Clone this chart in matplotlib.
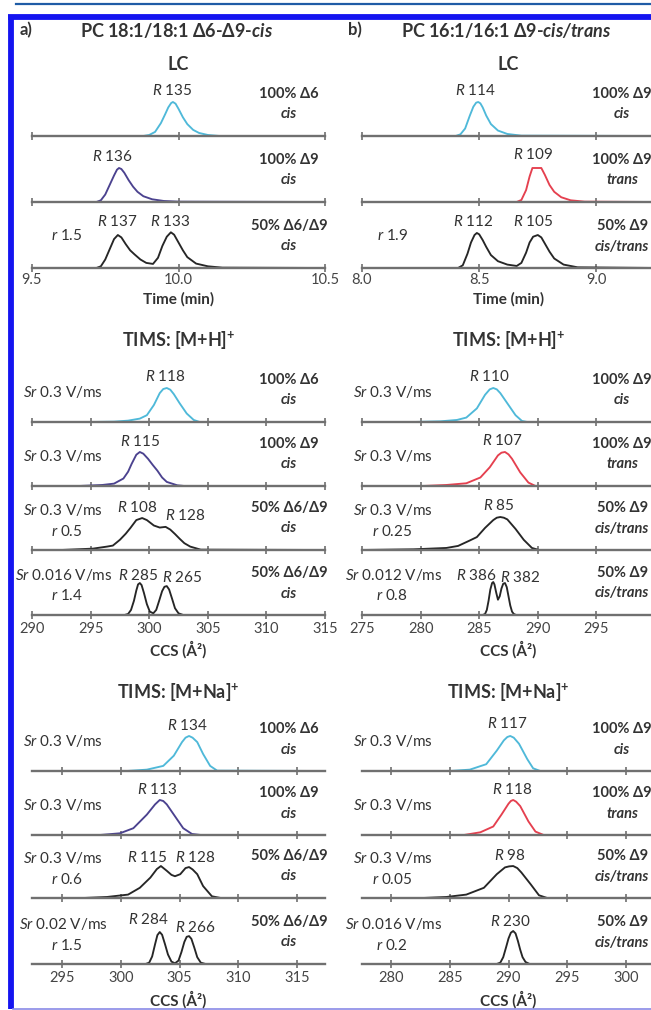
import matplotlib
matplotlib.use('Agg')
import matplotlib.pyplot as plt
from matplotlib.lines import Line2D
from matplotlib.transforms import blended_transform_factory

plt.rcParams['font.family'] = ['Lato', 'Noto Sans', 'DejaVu Sans']
plt.rcParams['mathtext.fontset'] = 'custom'
plt.rcParams['mathtext.rm'] = 'Lato'
plt.rcParams['mathtext.it'] = 'Lato:italic'
plt.rcParams['mathtext.bf'] = 'Lato:bold'
plt.rcParams['mathtext.bfit'] = 'Lato:italic:bold'

# ---------------- data ----------------
# colours of the isomers
CYAN = '#4fb9d9'
PURPLE = '#4b428f'
RED = '#e5404f'
BLACK = '#262626'

# LC, panel a (time, min)
lc_a_d6_t = [9.50, 9.88, 9.90, 9.92, 9.94, 9.955, 9.965, 9.975, 9.981, 9.99, 10.00, 10.015, 10.03, 10.05,
             10.07, 10.10, 10.14, 10.50]
lc_a_d6_i = [0, 0, 0.03, 0.12, 0.38, 0.65, 0.84, 0.97, 1.00, 0.95, 0.80, 0.55, 0.35, 0.18,
             0.09, 0.03, 0, 0]
lc_a_d9_t = [9.50, 9.72, 9.735, 9.75, 9.765, 9.78, 9.79, 9.797, 9.805, 9.815, 9.83, 9.845, 9.86, 9.88,
             9.91, 9.95, 10.0, 10.5]
lc_a_d9_i = [0, 0, 0.05, 0.22, 0.50, 0.78, 0.95, 1.00, 0.97, 0.86, 0.64, 0.45, 0.30, 0.17,
             0.08, 0.03, 0.01, 0]
lc_a_mix_t = [9.5, 9.72, 9.735, 9.75, 9.765, 9.78, 9.793, 9.805, 9.82, 9.835, 9.85, 9.87, 9.89, 9.913,
              9.93, 9.945, 9.96, 9.974, 9.985, 10.0, 10.015, 10.03, 10.06, 10.1, 10.15, 10.5]
lc_a_mix_i = [0, 0, 0.05, 0.25, 0.55, 0.85, 0.97, 0.90, 0.70, 0.52, 0.40, 0.25, 0.15, 0.12,
              0.30, 0.65, 0.92, 1.05, 0.98, 0.75, 0.52, 0.32, 0.13, 0.05, 0.01, 0]

# LC, panel b
lc_b_cis_t = [8.0, 8.40, 8.42, 8.44, 8.46, 8.475, 8.487, 8.496, 8.505, 8.515, 8.53, 8.55, 8.58, 8.62, 8.68, 9.25]
lc_b_cis_i = [0, 0, 0.05, 0.22, 0.60, 0.86, 0.98, 1.00, 0.96, 0.84, 0.60, 0.35, 0.16, 0.06, 0.01, 0]
lc_b_trans_t = [8.0, 8.66, 8.68, 8.70, 8.715, 8.727, 8.765, 8.78, 8.80, 8.82, 8.85, 8.89, 8.95, 9.25]
lc_b_trans_i = [0, 0, 0.06, 0.35, 0.75, 1.00, 1.00, 0.80, 0.50, 0.30, 0.14, 0.05, 0.01, 0]
lc_b_mix_t = [8.0, 8.41, 8.43, 8.45, 8.465, 8.48, 8.49, 8.50, 8.515, 8.53, 8.55, 8.58, 8.62, 8.66, 8.68,
              8.70, 8.715, 8.73, 8.75, 8.765, 8.78, 8.80, 8.82, 8.86, 8.92, 9.25]
lc_b_mix_i = [0, 0, 0.08, 0.42, 0.75, 0.97, 1.03, 0.99, 0.82, 0.62, 0.38, 0.20, 0.10, 0.06, 0.15,
              0.45, 0.75, 0.92, 0.97, 0.90, 0.72, 0.48, 0.28, 0.10, 0.02, 0]

# TIMS [M+H]+, panel a (CCS, A^2)
h_a_d6_x = [290, 295, 297, 298.2, 299.2, 299.8, 300.4, 300.9, 301.2, 301.5, 301.8, 302.1, 302.6, 303.2,
            303.8, 304.3, 315]
h_a_d6_y = [0, 0, 0.01, 0.04, 0.10, 0.20, 0.50, 0.85, 0.97, 1.00, 0.95, 0.82, 0.55, 0.25,
            0.06, 0, 0]
h_a_d9_x = [290, 294, 296, 297.0, 297.8, 298.2, 298.5, 298.9, 299.2, 299.5, 299.9, 300.3, 300.7, 301.1,
            301.5, 302.4, 303, 315]
h_a_d9_y = [0, 0, 0.03, 0.07, 0.22, 0.42, 0.65, 0.92, 1.00, 0.95, 0.80, 0.62, 0.45, 0.25,
            0.12, 0.02, 0, 0]
h_a_mix_x = [290, 292.5, 295.2, 296.4, 296.9, 297.5, 298.0, 298.4, 298.9, 299.4, 299.8, 300.4, 300.9, 301.4,
             301.8, 302.2, 302.6, 303.0, 303.5, 304.4, 315]
h_a_mix_y = [0, 0, 0.04, 0.10, 0.13, 0.30, 0.48, 0.65, 0.88, 0.94, 0.88, 0.72, 0.66, 0.68,
             0.60, 0.47, 0.33, 0.20, 0.10, 0.01, 0]
h_a_slow_x = [290, 297.9, 298.2, 298.45, 298.7, 298.9, 299.05, 299.2, 299.35, 299.55, 299.8, 300.05, 300.35,
              300.6, 300.85, 301.1, 301.3, 301.5, 301.7, 301.95, 302.2, 302.5, 302.9, 315]
h_a_slow_y = [0, 0, 0.03, 0.15, 0.42, 0.72, 0.90, 0.94, 0.88, 0.65, 0.32, 0.10, 0.05,
              0.15, 0.42, 0.70, 0.83, 0.85, 0.75, 0.48, 0.20, 0.05, 0, 0]

# TIMS [M+H]+, panel b
h_b_cis_x = [275, 279.4, 281.7, 283.1, 283.9, 284.8, 285.5, 285.9, 286.2, 286.5, 286.8, 287.5, 288.1,
             288.65, 289.1, 300]
h_b_cis_y = [0, 0, 0.02, 0.06, 0.13, 0.40, 0.80, 0.96, 1.00, 0.96, 0.85, 0.50, 0.20,
             0.03, 0, 0]
h_b_trans_x = [275, 280.2, 282.2, 283.9, 285.1, 285.9, 286.3, 286.6, 286.9, 287.2, 287.5, 287.8, 288.5,
               289.2, 289.8, 300]
h_b_trans_y = [0, 0, 0.03, 0.08, 0.25, 0.55, 0.75, 0.90, 0.98, 1.00, 0.93, 0.80, 0.40,
               0.10, 0, 0]
h_b_mix_x = [275, 279.4, 282.2, 283.2, 284.2, 284.8, 285.5, 286.2, 286.5, 286.8, 287.1, 287.4, 288.1,
             288.8, 289.5, 290.1, 300]
h_b_mix_y = [0, 0.02, 0.06, 0.12, 0.28, 0.38, 0.65, 0.88, 0.95, 0.97, 0.95, 0.90, 0.62,
             0.30, 0.06, 0, 0]
h_b_slow_x = [275, 285.3, 285.5, 285.65, 285.8, 285.95, 286.1, 286.2, 286.3, 286.45, 286.6, 286.75, 286.9,
              287.05, 287.2, 287.35, 287.5, 287.65, 287.8, 287.95, 288.15, 300]
h_b_slow_y = [0, 0, 0.03, 0.15, 0.42, 0.75, 0.94, 0.97, 0.90, 0.66, 0.45, 0.55, 0.78,
              0.92, 0.94, 0.82, 0.55, 0.28, 0.10, 0.03, 0, 0]

# TIMS [M+Na]+, panel a
na_a_d6_x = [292.4, 300.5, 302.2, 303.6, 304.5, 305.2, 305.5, 305.8, 306.1, 306.5, 307.0, 307.6, 308.2, 317.4]
na_a_d6_y = [0, 0, 0.04, 0.15, 0.45, 0.85, 0.98, 1.03, 0.98, 0.85, 0.50, 0.15, 0.01, 0]
na_a_d9_x = [292.4, 298.2, 299.9, 301.05, 302.2, 302.9, 303.3, 303.6, 303.9, 304.6, 305.3, 306.05, 306.8, 317.4]
na_a_d9_y = [0, 0, 0.05, 0.20, 0.60, 0.90, 1.03, 1.00, 0.90, 0.55, 0.20, 0.03, 0, 0]
na_a_mix_x = [292.4, 296.8, 298.8, 300.6, 301.6, 302.5, 303.05, 303.4, 303.9, 304.3, 304.6, 305.05, 305.5,
              305.8, 306.1, 306.5, 307.0, 307.75, 308.5, 317.4]
na_a_mix_y = [0, 0, 0.03, 0.10, 0.30, 0.60, 0.85, 0.94, 0.80, 0.68, 0.64, 0.70, 0.88,
              0.91, 0.84, 0.70, 0.35, 0.05, 0, 0]
na_a_slow_x = [292.4, 302.1, 302.4, 302.65, 302.9, 303.1, 303.3, 303.5, 303.75, 304.0, 304.3, 304.6, 304.9,
               305.15, 305.4, 305.6, 305.8, 306.0, 306.25, 306.5, 306.8, 307.2, 317.4]
na_a_slow_y = [0, 0, 0.04, 0.22, 0.58, 0.85, 0.94, 0.86, 0.58, 0.28, 0.07, 0.02, 0.10,
               0.35, 0.65, 0.80, 0.82, 0.74, 0.48, 0.20, 0.04, 0, 0]

# TIMS [M+Na]+, panel b
na_b_cis_x = [277.5, 285.0, 286.7, 288.1, 289.0, 289.6, 289.9, 290.15, 290.45, 290.9, 291.6, 292.1, 292.7, 302.5]
na_b_cis_y = [0, 0, 0.04, 0.20, 0.60, 0.90, 1.00, 1.03, 0.98, 0.80, 0.35, 0.08, 0, 0]
na_b_trans_x = [277.5, 286.2, 287.6, 288.7, 289.4, 290.0, 290.2, 290.4, 290.65, 291.0, 291.7, 292.3, 293.0, 302.5]
na_b_trans_y = [0, 0, 0.08, 0.25, 0.60, 0.92, 1.00, 1.03, 0.98, 0.85, 0.40, 0.10, 0, 0]
na_b_mix_x = [277.5, 282.7, 284.7, 286.4, 287.9, 289.0, 289.7, 290.05, 290.4, 290.75, 291.1, 291.9, 292.6,
              293.3, 302.5]
na_b_mix_y = [0, 0, 0.03, 0.10, 0.30, 0.70, 0.90, 0.93, 0.94, 0.88, 0.75, 0.40, 0.08, 0, 0]
na_b_slow_x = [277.5, 289.0, 289.3, 289.55, 289.8, 290.0, 290.2, 290.4, 290.6, 290.8, 291.0, 291.2, 291.45,
               291.8, 302.5]
na_b_slow_y = [0, 0, 0.04, 0.20, 0.50, 0.75, 0.92, 0.97, 0.90, 0.68, 0.42, 0.20, 0.06, 0, 0]

# resolution labels (text, position on x)
lc_a_R = [[('135', 9.978)], [('136', 9.776)], [('137', 9.79), ('133', 9.971)]]
lc_b_R = [[('114', 8.483)], [('109', 8.73)], [('112', 8.474), ('105', 8.73)]]
h_a_R = [[('118', 301.4)], [('115', 299.2)], [('108', 299.0), ('128', 303.1)], [('285', 299.1), ('265', 302.8)]]
h_b_R = [[('110', 285.85)], [('107', 286.97)], [('85', 286.7)], [('386', 284.8), ('382', 288.5)]]
na_a_R = [[('134', 305.7)], [('113', 303.1)], [('115', 302.2), ('128', 306.3)], [('284', 302.3), ('266', 306.3)]]
na_b_R = [[('117', 289.9)], [('118', 290.3)], [('98', 290.15)], [('230', 290.15)]]

# sample names
names_a = [('100% Δ6', 'cis'), ('100% Δ9', 'cis'), ('50% Δ6/Δ9', 'cis'), ('50% Δ6/Δ9', 'cis')]
names_b = [('100% Δ9', 'cis'), ('100% Δ9', 'trans'), ('50% Δ9', 'cis/trans'), ('50% Δ9', 'cis/trans')]

# scan rates and peak-to-peak ratios
h_a_sr = ['0.3', '0.3', '0.3', '0.016']
h_a_r = [None, None, '0.5', '1.4']
h_b_sr = ['0.3', '0.3', '0.3', '0.012']
h_b_r = [None, None, '0.25', '0.8']
na_a_sr = ['0.3', '0.3', '0.3', '0.02']
na_a_r = [None, None, '0.6', '1.5']
na_b_sr = ['0.3', '0.3', '0.3', '0.016']
na_b_r = [None, None, '0.05', '0.2']
lc_a_r = [None, None, '1.5']
lc_b_r = [None, None, '1.9']

# ---------------- drawing ----------------
W, H = 651, 1010
AX_W = 293      # axes width in px
ROW_H = 62      # row height in px
UNIT = 34       # px per intensity unit
TXT = '#333333'
AXC = '#707070'

fig = plt.figure(figsize=(W / 100, H / 100), dpi=100)


def ftext(x, y, s, **kw):
    kw.setdefault('color', TXT)
    fig.text(x / W, 1 - y / H, s, ha=kw.pop('ha', 'center'), va=kw.pop('va', 'center'), **kw)


def row(left, base, xlim, ticks, xs, ys, color, labels=False, pad=2.0):
    ax = fig.add_axes([left / W, 1 - base / H, AX_W / W, ROW_H / H])
    ax.patch.set_alpha(0)
    ax.plot(xs, ys, color=color, lw=1.35, solid_joinstyle='round')
    ax.set_xlim(xlim)
    ax.set_ylim(0, ROW_H / UNIT)
    for s in ('top', 'right', 'left'):
        ax.spines[s].set_visible(False)
    ax.spines['bottom'].set_color(AXC)
    ax.spines['bottom'].set_linewidth(1.7)
    ax.set_yticks([])
    ax.set_xticks(ticks)
    ax.tick_params(axis='x', direction='inout', length=6, width=1.2, color=AXC,
                   labelsize=10.5, labelcolor='#454545', pad=pad)
    if not labels:
        ax.set_xticklabels([])
    return ax


def annotate(ax, rlabels, name, r_offsets, sr=None, r=None, sr_x=0.107, r_x=0.118, name_x=0.877):
    for (txt, xpos), dy in zip(rlabels, r_offsets):
        ax.text(xpos, dy / UNIT, r'$R$ ' + txt, ha='center', va='center', fontsize=11, color=TXT)
    tr = blended_transform_factory(ax.transAxes, ax.transData)
    ax.text(name_x, 42 / UNIT, name[0], transform=tr, ha='center', va='center',
            fontsize=10.5, fontweight='bold', color=TXT)
    ax.text(name_x, 21.5 / UNIT, name[1], transform=tr, ha='center', va='center',
            fontsize=10.5, fontweight='bold', style='italic', color=TXT)
    if sr is not None:
        ysr = 40 if r is not None else 30
        ax.text(sr_x, ysr / UNIT, r'$Sr$ ' + sr + ' V/ms', transform=tr, ha='center', va='center',
                fontsize=11, color=TXT)
    if r is not None:
        yr = 19 if sr is not None else 33
        ax.text(r_x, yr / UNIT, r'$r$ ' + r, transform=tr, ha='center', va='center',
                fontsize=11, color=TXT)


LA, LB = 32, 362
NB = 0.888
lc_base = [136, 202, 268]
h_base = [422, 486, 550, 615]
na_base = [771, 835, 898, 964]

# LC rows
lc_a = [(lc_a_d6_t, lc_a_d6_i, CYAN), (lc_a_d9_t, lc_a_d9_i, PURPLE), (lc_a_mix_t, lc_a_mix_i, BLACK)]
lc_b = [(lc_b_cis_t, lc_b_cis_i, CYAN), (lc_b_trans_t, lc_b_trans_i, RED), (lc_b_mix_t, lc_b_mix_i, BLACK)]
for i, b in enumerate(lc_base):
    last = i == 2
    ax = row(LA, b, (9.5, 10.5), [9.5, 10.0, 10.5], *lc_a[i], labels=last, pad=0.5)
    if last:
        ax.set_xticklabels(['9.5', '10.0', '10.5'])
    annotate(ax, lc_a_R[i], names_a[i], [46, 45, 46][i:i + 1] * 2, r=lc_a_r[i], r_x=0.12)
    ax = row(LB, b, (8.0, 9.25), [8.0, 8.5, 9.0], *lc_b[i], labels=last, pad=0.5)
    if last:
        ax.set_xticklabels(['8.0', '8.5', '9.0'])
    annotate(ax, lc_b_R[i], names_b[i], [46, 47, 46][i:i + 1] * 2, r=lc_b_r[i], r_x=0.106, name_x=NB)

# TIMS [M+H]+ rows
h_a = [(h_a_d6_x, h_a_d6_y, CYAN), (h_a_d9_x, h_a_d9_y, PURPLE),
       (h_a_mix_x, h_a_mix_y, BLACK), (h_a_slow_x, h_a_slow_y, BLACK)]
h_b = [(h_b_cis_x, h_b_cis_y, CYAN), (h_b_trans_x, h_b_trans_y, RED),
       (h_b_mix_x, h_b_mix_y, BLACK), (h_b_slow_x, h_b_slow_y, BLACK)]
h_off = [[45], [44], [43, 35], [40, 38]]
hb_off = [[45], [45], [45], [40, 38]]
for i, b in enumerate(h_base):
    last = i == 3
    ax = row(LA, b, (290, 315), [290, 295, 300, 305, 310, 315], *h_a[i], labels=last)
    annotate(ax, h_a_R[i], names_a[i], h_off[i], sr=h_a_sr[i], r=h_a_r[i])
    ax = row(LB, b, (275, 300), [275, 280, 285, 290, 295], *h_b[i], labels=last)
    annotate(ax, h_b_R[i], names_b[i], hb_off[i], sr=h_b_sr[i], r=h_b_r[i], r_x=0.102, name_x=NB)

# TIMS [M+Na]+ rows
na_a = [(na_a_d6_x, na_a_d6_y, CYAN), (na_a_d9_x, na_a_d9_y, PURPLE),
        (na_a_mix_x, na_a_mix_y, BLACK), (na_a_slow_x, na_a_slow_y, BLACK)]
na_b = [(na_b_cis_x, na_b_cis_y, CYAN), (na_b_trans_x, na_b_trans_y, RED),
        (na_b_mix_x, na_b_mix_y, BLACK), (na_b_slow_x, na_b_slow_y, BLACK)]
na_off = [[46], [45], [41, 41], [44, 37]]
nb_off = [[47], [46], [43], [42]]
for i, b in enumerate(na_base):
    last = i == 3
    ax = row(LA, b, (292.4, 317.4), [295, 300, 305, 310, 315], *na_a[i], labels=last)
    annotate(ax, na_a_R[i], names_a[i], na_off[i], sr=na_a_sr[i], r=na_a_r[i], r_x=0.12)
    ax = row(LB, b, (277.5, 302.5), [280, 285, 290, 295, 300], *na_b[i], labels=last)
    annotate(ax, na_b_R[i], names_b[i], nb_off[i], sr=na_b_sr[i], r=na_b_r[i], r_x=0.102, name_x=NB)

# headings
ftext(26, 30, 'a)', fontsize=12, fontweight='bold')
ftext(355, 30, 'b)', fontsize=12, fontweight='bold')
ftext(177, 30, r'PC 18:1/18:1 Δ6-Δ9-$\mathbfit{cis}$', fontsize=13, fontweight='bold')
ftext(506, 30, r'PC 16:1/16:1 Δ9-$\mathbfit{cis/trans}$', fontsize=13, fontweight='bold')
for cx in (LA + AX_W / 2, LB + AX_W / 2):
    ftext(cx, 64, 'LC', fontsize=13, fontweight='bold')
    ftext(cx, 299, 'Time (min)', fontsize=11, fontweight='bold')
    ftext(cx, 340, r'TIMS: [M+H]$^{\mathbf{+}}$', fontsize=13, fontweight='bold')
    ftext(cx, 650, 'CCS (Å²)', fontsize=11, fontweight='bold')
    ftext(cx, 692, r'TIMS: [M+Na]$^{\mathbf{+}}$', fontsize=13, fontweight='bold')
    ftext(cx, 1000, 'CCS (Å²)', fontsize=11, fontweight='bold')


# frame
def fline(xs, ys, **kw):
    fig.add_artist(Line2D([x / W for x in xs], [1 - y / H for y in ys],
                          transform=fig.transFigure, **kw))


fline([16, 651], [4, 4], color='#1f5ca6', lw=1.6)
fline([8, 651], [16.5, 16.5], color='#1414f0', lw=4.2, solid_capstyle='butt')
fline([11, 11], [14.5, 1009], color='#1414f0', lw=4.2, solid_capstyle='butt')
fline([13, 651], [1008.5, 1008.5], color='#8a8ae6', lw=1.2)

fig.savefig('out.png', dpi=100)
